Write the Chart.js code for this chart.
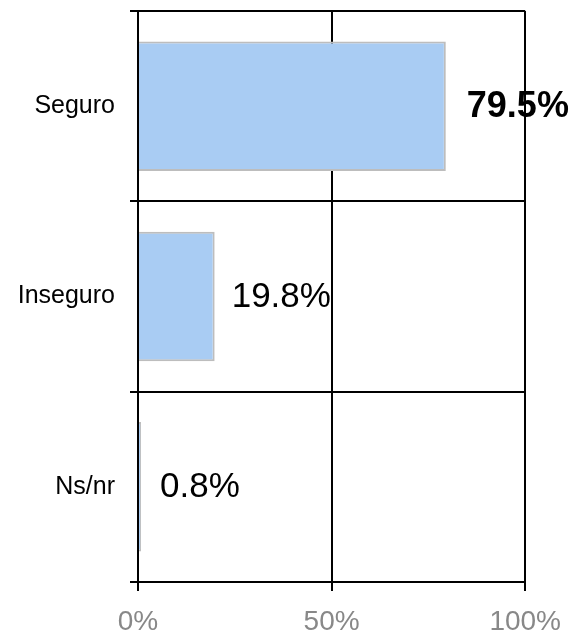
<!DOCTYPE html>
<html>
<head>
<meta charset="utf-8">
<script src="https://cdn.jsdelivr.net/npm/chart.js@4.4.1/dist/chart.umd.min.js"></script>
<style>
  html, body { margin: 0; padding: 0; background: #fff; }
  #wrap { width: 575px; height: 636px; position: relative; }
</style>
</head>
<body>
<div id="wrap"><canvas id="chart"></canvas></div>
<script>
const categories = ['Seguro', 'Inseguro', 'Ns/nr'];
const values = [79.5, 19.8, 0.8];
const xTickLabels = ['0%', '50%', '100%'];

const FONT = '"Liberation Sans", Arial, sans-serif';

// value labels drawn to the right of each bar end
const valueLabels = {
  id: 'valueLabels',
  afterDatasetsDraw(chart, args, opts) {
    const ctx = chart.ctx;
    const meta = chart.getDatasetMeta(0);
    ctx.save();
    ctx.fillStyle = '#000';
    ctx.textBaseline = 'middle';
    ctx.textAlign = 'left';
    meta.data.forEach((bar, i) => {
      const weight = opts.weights[i] || 'normal';
      ctx.font = `${weight} ${opts.sizes[i]}px ${FONT}`;
      ctx.fillText(values[i].toFixed(1) + '%', bar.x + opts.offsets[i], bar.y + 1);
    });
    ctx.restore();
  },
};

new Chart(document.getElementById('chart'), {
  type: 'bar',
  data: {
    labels: categories,
    datasets: [
      {
        data: values,
        backgroundColor: '#A9CCF3',
        borderColor: '#BDBDBD',
        borderWidth: 2,
        borderSkipped: 'start',
        categoryPercentage: 1,
        barPercentage: 0.68,
      },
    ],
  },
  options: {
    indexAxis: 'y',
    responsive: true,
    maintainAspectRatio: false,
    animation: false,
    layout: { padding: { top: 11, right: 49, left: 0, bottom: 0 } },
    plugins: {
      legend: { display: false },
      tooltip: { enabled: false },
      valueLabels: { sizes: [36, 35, 35], offsets: [21, 17, 19], weights: ['bold', 'normal', 'normal'] },
    },
    scales: {
      x: {
        min: 0,
        max: 100,
        afterFit: (s) => { s.height = 54; },
        border: { display: true, color: '#000', width: 2 },
        grid: { color: '#000', lineWidth: 2, tickLength: 9, drawTicks: true },
        ticks: {
          stepSize: 50,
          padding: 14,
          color: '#888',
          font: { family: FONT, size: 28 },
          callback: (v, i) => xTickLabels[i],
          maxRotation: 0,
        },
      },
      y: {
        afterFit: (s) => {
          s.width = 138;
          s.paddingTop = 0;
          s.paddingBottom = 0;
        },
        border: { display: true, color: '#000', width: 2 },
        grid: { color: '#000', lineWidth: 2, tickLength: 8, offset: true },
        ticks: {
          padding: 15,
          color: '#000',
          font: { family: FONT, size: 25 },
        },
      },
    },
  },
  plugins: [valueLabels],
});
</script>
</body>
</html>
